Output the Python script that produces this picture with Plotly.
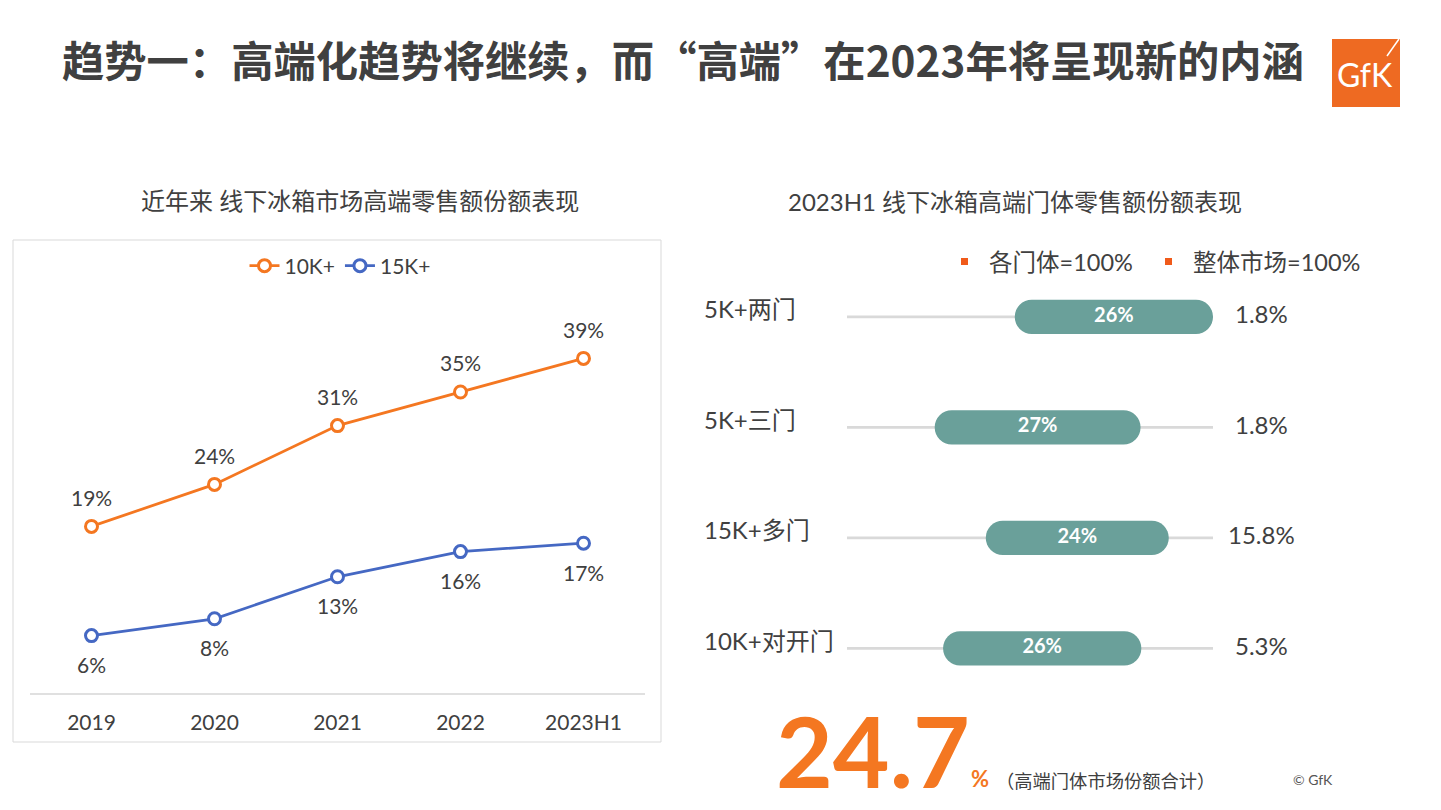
import plotly.graph_objects as go

W, H = 1441, 810

# ---------------- data ----------------
years = ["2019", "2020", "2021", "2022", "2023H1"]
series_names = ["10K+", "15K+"]
share_10k = [19, 24, 31, 35, 39]
share_15k = [6, 8, 13, 16, 17]

door_types = ["5K+两门", "5K+三门", "15K+多门", "10K+对开门"]
door_share = [26, 27, 24, 26]            # 各门体=100%
door_start = [22, 11.5, 18.2, 12.6]      # where each bar begins on its track
track_total = [48, 48, 48, 48]
market_share = [1.8, 1.8, 15.8, 5.3]     # 整体市场=100%
total_share = 24.7

# ---------------- styles ----------------
ORANGE = "#F47721"
BLUE = "#4568C3"
TEAL = "#6AA09A"
TXT = "#404040"
GRID = "#D9D9D9"
LATIN = "Lato, 'Noto Sans CJK SC', sans-serif"
CJK = "'Noto Sans CJK SC', Lato, sans-serif"


def px(x):
    return x / W


def py(y):
    return 1 - y / H


fig = go.Figure()

# ---------------- left: line chart ----------------
annotations = []
for name, vals, col, shift in [
    (series_names[0], share_10k, ORANGE, 29),
    (series_names[1], share_15k, BLUE, -29),
]:
    fig.add_trace(go.Scatter(
        x=years, y=vals, name=name,
        mode="lines+markers",
        line=dict(color=col, width=2.75),
        marker=dict(symbol="circle", size=12, color="white",
                    line=dict(color=col, width=3)),
        cliponaxis=False,
        xaxis="x", yaxis="y",
        hoverinfo="skip",
    ))
    # category axis: annotations are placed by category index
    for i, yv in enumerate(vals):
        annotations.append(dict(
            text=f"{yv}%", x=i, y=yv, xref="x", yref="y",
            xanchor="center", yanchor="middle", yshift=shift, showarrow=False,
            font=dict(family=LATIN, size=21, color=TXT),
        ))

# ---------------- right: track + pill bars ----------------
fig.add_trace(go.Bar(
    orientation="h", y=door_types, x=track_total, base=[0] * len(track_total),
    width=0.025, marker=dict(color=GRID, line=dict(width=0)),
    xaxis="x2", yaxis="y2", showlegend=False, hoverinfo="skip",
))
fig.add_trace(go.Bar(
    orientation="h", y=door_types, x=door_share, base=door_start,
    width=0.31, marker=dict(color=TEAL, line=dict(width=0), cornerradius=17),
    xaxis="x2", yaxis="y2", showlegend=False, hoverinfo="skip",
))
mids = [s + v / 2 for s, v in zip(door_start, door_share)]
fig.add_trace(go.Scatter(
    x=mids, y=door_types, mode="text",
    text=[f"{v}%" for v in door_share],
    textfont=dict(family=LATIN, size=20, color="white", weight="bold"),
    xaxis="x2", yaxis="y2", showlegend=False, hoverinfo="skip",
    cliponaxis=False,
))

# titles
annotations.append(dict(
    text="趋势一：高端化趋势将继续，而“高端”在2023年将呈现新的内涵",
    x=px(683), y=py(58), xref="paper", yref="paper",
    xanchor="center", yanchor="middle", showarrow=False,
    font=dict(family=CJK, size=42.3, color=TXT, weight="bold"),
))
annotations.append(dict(
    text="近年来 线下冰箱市场高端零售额份额表现",
    x=px(360), y=py(201), xref="paper", yref="paper",
    xanchor="center", yanchor="middle", showarrow=False,
    font=dict(family=LATIN, size=24, color=TXT),
))
annotations.append(dict(
    text="2023H1 线下冰箱高端门体零售额份额表现",
    x=px(1015), y=py(202), xref="paper", yref="paper",
    xanchor="center", yanchor="middle", showarrow=False,
    font=dict(family=LATIN, size=24, color=TXT),
))
# right legend
for label, x0 in [("各门体=100%", 987), ("整体市场=100%", 1191)]:
    annotations.append(dict(
        text=label, x=px(x0), y=py(262), xref="paper", yref="paper",
        xanchor="left", yanchor="middle", showarrow=False,
        font=dict(family=LATIN, size=23.5, color=TXT),
    ))
# category labels and market share values
for cat, ms in zip(door_types, market_share):
    annotations.append(dict(
        text=cat, x=px(702), y=cat, xref="paper", yref="y2",
        xanchor="left", yanchor="middle", yshift=8, showarrow=False,
        font=dict(family=LATIN, size=24, color=TXT),
    ))
    annotations.append(dict(
        text=f"{ms}%", x=px(1261), y=cat, xref="paper", yref="y2",
        xanchor="center", yanchor="middle", yshift=3, showarrow=False,
        font=dict(family=LATIN, size=24, color=TXT),
    ))
# big total
annotations.append(dict(
    text=f"{total_share}", x=px(873), y=py(750), xref="paper", yref="paper",
    xanchor="center", yanchor="middle", showarrow=False,
    font=dict(family=LATIN, size=98, color=ORANGE, weight="bold"),
))
annotations.append(dict(
    text="%", x=px(980), y=py(778), xref="paper", yref="paper",
    xanchor="center", yanchor="middle", showarrow=False,
    font=dict(family=LATIN, size=22, color=ORANGE, weight="bold"),
))
annotations.append(dict(
    text="（高端门体市场份额合计）", x=px(1105), y=py(780), xref="paper", yref="paper",
    xanchor="center", yanchor="middle", showarrow=False,
    font=dict(family=CJK, size=18.3, color=TXT),
))
annotations.append(dict(
    text="© GfK", x=px(1313), y=py(779), xref="paper", yref="paper",
    xanchor="center", yanchor="middle", showarrow=False,
    font=dict(family=LATIN, size=14, color="#555555"),
))
# logo text
annotations.append(dict(
    text="GfK", x=px(1365), y=py(75), xref="paper", yref="paper",
    xanchor="center", yanchor="middle", showarrow=False,
    font=dict(family=LATIN, size=32, color="white"),
))

shapes = [
    # left chart frame
    dict(type="rect", xref="paper", yref="paper",
         x0=px(13), x1=px(661), y0=py(742), y1=py(240),
         line=dict(color=GRID, width=1), fillcolor="rgba(0,0,0,0)", layer="below"),
    # right legend squares
    dict(type="rect", xref="paper", yref="paper",
         x0=px(961), x1=px(968), y0=py(265), y1=py(258),
         line=dict(width=0), fillcolor="#F05A1A"),
    dict(type="rect", xref="paper", yref="paper",
         x0=px(1165), x1=px(1172), y0=py(265), y1=py(258),
         line=dict(width=0), fillcolor="#F05A1A"),
    # logo
    dict(type="rect", xref="paper", yref="paper",
         x0=px(1332), x1=px(1400), y0=py(107), y1=py(39),
         line=dict(width=0), fillcolor="#EE6A22"),
    dict(type="line", xref="paper", yref="paper",
         x0=px(1387), x1=px(1399), y0=py(56), y1=py(39),
         line=dict(color="white", width=1.5)),
]

fig.update_layout(
    width=W, height=H,
    margin=dict(l=0, r=0, t=0, b=0),
    paper_bgcolor="white", plot_bgcolor="rgba(0,0,0,0)",
    barmode="overlay",
    showlegend=True,
    legend=dict(
        orientation="h", x=px(340), y=py(266), xanchor="center", yanchor="middle",
        font=dict(family=LATIN, size=21, color=TXT), bgcolor="rgba(0,0,0,0)",
        itemwidth=30,
    ),
    xaxis=dict(
        domain=[px(30), px(645)], anchor="y", type="category",
        range=[-0.5, 4.5], showgrid=False, zeroline=False,
        showline=True, linecolor="#E0E0E0", linewidth=1.5,
        ticks="", ticklabelstandoff=10,
        tickfont=dict(family=LATIN, size=21, color=TXT),
        fixedrange=True,
    ),
    yaxis=dict(
        domain=[py(693), py(290)], anchor="x",
        range=[-0.833, 47.14], visible=False, fixedrange=True,
    ),
    xaxis2=dict(
        domain=[px(847), px(1213)], anchor="y2",
        range=[0, 48], visible=False, fixedrange=True,
    ),
    yaxis2=dict(
        domain=[py(703.6), py(261.7)], anchor="x2", type="category",
        categoryorder="array", categoryarray=door_types,
        range=[3.5, -0.5], visible=False, fixedrange=True,
    ),
    annotations=annotations,
    shapes=shapes,
)

# remove the browser's default 8px page margin so the figure fills the window
fig.write_html(
    "out.html",
    config={"displayModeBar": False},
    post_script="document.body.style.margin='0';document.body.style.overflow='hidden';",
)
